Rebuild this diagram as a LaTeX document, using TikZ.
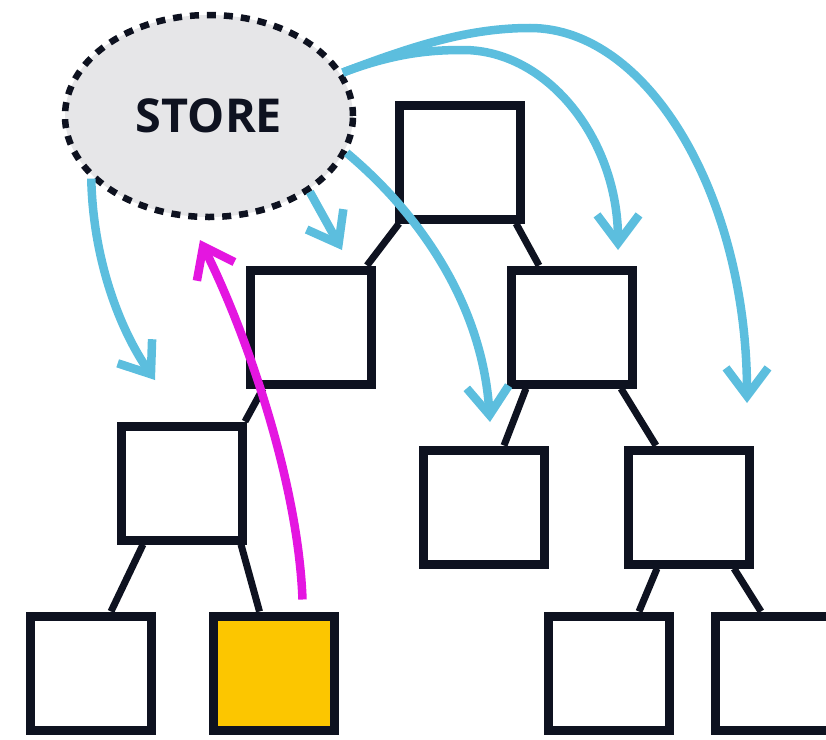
\documentclass[tikz,border=0pt]{standalone}
\usepackage{fontspec}
\newfontfamily\storefont{Open Sans}
\usepackage{tikz}
\usetikzlibrary{shapes.geometric}
\usetikzlibrary{arrows.meta}
\definecolor{boxline}{RGB}{14,18,32}
\definecolor{storefill}{RGB}{230,230,232}
\definecolor{flowblue}{RGB}{92,190,222}
\definecolor{flowpink}{RGB}{228,22,224}
\definecolor{pickyellow}{RGB}{252,198,0}

\begin{document}
\begin{tikzpicture}[box/.style={draw=boxline, line width=0.09cm, minimum width=1.21cm, minimum height=1.14cm, inner sep=0pt, fill=white}, link/.style={draw=boxline, line width=0.07cm}, flow/.style={draw=flowblue, line width=0.085cm, -{Straight Barb[length=0.28cm, width=0.42cm]}}, pick/.style={draw=flowpink, line width=0.085cm, -{Straight Barb[length=0.28cm, width=0.42cm]}}]
    \clip (0,0) rectangle (8.26,-7.39);

    \node[ellipse, draw=boxline, line width=0.065cm, dash pattern=on 0.09cm off 0.08cm, fill=storefill, minimum width=2.88cm, minimum height=2.02cm, inner sep=0pt, text=boxline, font=\storefont\bfseries\fontsize{13.3}{15}\selectfont] (store) at (2.09,-1.16) {STORE};

    \node[box] (1) at (4.60,-1.62) {};
    
    \node[box] (2) at (3.11,-3.27) {};
    \node[box] (3) at (5.72,-3.27) {};
    
    \node[box] (4) at (1.82,-4.83) {};
    \node[box] (5) at (4.84,-5.07) {};
    \node[box] (6) at (6.89,-5.07) {};

    \node[box] (7) at (0.91,-6.73) {};
    \node[box, fill=pickyellow] (8) at (2.735,-6.73) {};
    \node[box] (9) at (6.09,-6.73) {};
    \node[box] (10) at (7.76,-6.73) {};

    \draw[link] ([xshift=0.04cm]1.south west) to ([xshift=-0.09cm]2.north east);
    \draw[link] ([xshift=-0.09cm]1.south east) to ([xshift=0.32cm]3.north west);
    \draw[link] ([xshift=0.17cm]2.south west) to ([xshift=-0.02cm]4.north east);
    \draw[link] ([xshift=0.19cm]3.south west) to ([xshift=-0.45cm]5.north east);
    \draw[link] ([xshift=-0.16cm]3.south east) to ([xshift=0.32cm]6.north west);
    \draw[link] ([xshift=0.26cm]4.south west) to ([xshift=-0.45cm]7.north east);
    \draw[link] ([xshift=-0.06cm]4.south east) to ([xshift=0.51cm]8.north west);
    \draw[link] ([xshift=0.33cm]6.south west) to ([xshift=-0.35cm]9.north east);
    \draw[link] ([xshift=-0.20cm]6.south east) to ([xshift=0.50cm]10.north west);

    \coordinate (t1) at (1.55,-3.80);
    \coordinate (t2) at (3.42,-2.50);
    \coordinate (t3) at (4.90,-4.22);
    \coordinate (t4) at (6.18,-2.50);
    \coordinate (t5) at (7.47,-4.03);
    \coordinate (t6) at (2.00,-2.40);

    \draw[flow] (store.208) .. controls (0.93,-2.6) and (1.2,-3.3) .. (t1);
    \draw[flow] (store.-37) to (t2);
    \draw[flow] (store.-15) .. controls (4.15,-2.1) and (4.82,-3.0) .. (t3);
    \draw[flow] (store.18) .. controls (3.95,-0.53) and (4.3,-0.50) .. (4.63,-0.50) .. controls (5.48,-0.50) and (6.18,-1.40) .. (t4);
    \draw[flow] (store.18) .. controls (4.15,-0.45) and (4.7,-0.28) .. (5.30,-0.28) .. controls (6.49,-0.28) and (7.47,-1.97) .. (t5);
    \draw[pick] ([xshift=0.29cm, yshift=0.12cm]8.north) .. controls (2.98,-4.8) and (2.45,-3.3) .. (t6);
\end{tikzpicture}
\end{document}
